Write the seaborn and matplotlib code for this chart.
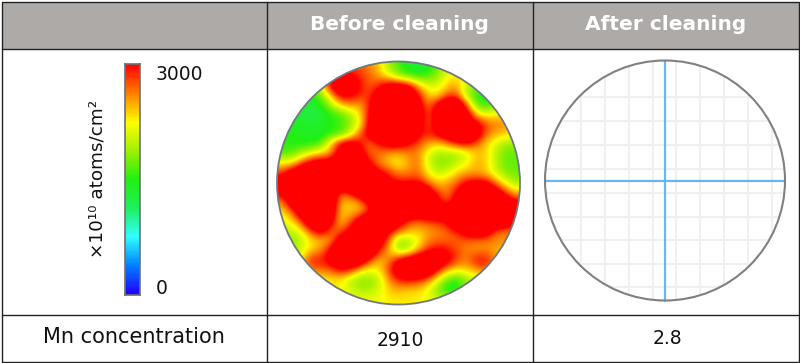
import numpy as np
import pandas as pd
import seaborn as sns
import matplotlib.pyplot as plt
from matplotlib.colors import LinearSegmentedColormap
from matplotlib.patches import Circle, Rectangle


# Mn concentration on the wafer before and after cleaning.

headers = ['Before cleaning', 'After cleaning']
row_label = 'Mn concentration'
row_values = ['2910', '2.8']
unit_label = '×10¹⁰ atoms/cm²'
scale_min = 0
scale_max = 3000

# Wafer map, hundreds of atoms units, top row first.
wafer_rows = [
    [20, 20, 20, 20, 20, 24, 26, 27, 27, 26, 24, 19, 16, 14, 13, 14, 17, 21, 22, 22, 22, 22, 22, 22, 22],
    [18, 18, 18, 18, 22, 28, 32, 31, 29, 27, 25, 22, 18, 16, 15, 16, 18, 22, 23, 23, 22, 22, 22, 22, 22],
    [17, 17, 17, 17, 23, 31, 36, 34, 30, 27, 29, 32, 33, 31, 25, 21, 21, 24, 25, 20, 18, 18, 20, 22, 22],
    [15, 15, 15, 15, 17, 24, 31, 31, 29, 28, 33, 36, 36, 36, 30, 24, 23, 27, 28, 19, 15, 14, 17, 21, 22],
    [15, 15, 14, 13, 15, 19, 24, 26, 25, 29, 36, 38, 38, 37, 33, 26, 31, 36, 36, 28, 17, 15, 17, 21, 22],
    [14, 14, 13, 12, 13, 15, 16, 19, 23, 30, 38, 40, 40, 38, 34, 27, 33, 38, 38, 33, 24, 22, 23, 24, 25],
    [14, 14, 14, 14, 14, 15, 16, 18, 22, 31, 38, 40, 40, 38, 33, 27, 32, 38, 38, 36, 32, 28, 26, 26, 25],
    [15, 15, 14, 14, 14, 15, 16, 20, 27, 32, 38, 40, 40, 36, 31, 29, 31, 34, 37, 38, 34, 27, 25, 24, 23],
    [15, 15, 15, 15, 16, 24, 31, 33, 30, 26, 29, 32, 32, 30, 28, 25, 24, 26, 29, 30, 27, 24, 21, 19, 18],
    [16, 17, 19, 22, 24, 25, 32, 38, 33, 27, 27, 25, 25, 26, 26, 22, 19, 19, 19, 21, 24, 24, 20, 17, 17],
    [23, 23, 28, 32, 33, 33, 38, 38, 35, 30, 26, 24, 22, 25, 27, 21, 18, 18, 20, 22, 25, 24, 20, 17, 17],
    [28, 33, 36, 38, 38, 40, 40, 40, 38, 35, 31, 29, 26, 26, 27, 23, 20, 21, 24, 25, 25, 24, 21, 18, 17],
    [34, 38, 40, 40, 40, 40, 40, 38, 38, 38, 35, 31, 30, 30, 30, 27, 24, 25, 27, 30, 31, 31, 26, 22, 19],
    [31, 38, 40, 40, 40, 38, 27, 30, 36, 40, 40, 38, 35, 36, 38, 34, 28, 26, 30, 36, 38, 38, 34, 28, 24],
    [26, 33, 38, 40, 40, 36, 25, 24, 25, 31, 40, 40, 38, 38, 38, 38, 32, 27, 33, 38, 40, 40, 38, 35, 31],
    [23, 27, 34, 38, 40, 35, 24, 24, 25, 28, 36, 40, 38, 36, 36, 36, 36, 33, 38, 40, 40, 40, 40, 38, 34],
    [21, 23, 28, 36, 38, 32, 24, 27, 33, 38, 36, 38, 33, 28, 27, 28, 29, 30, 38, 40, 40, 40, 38, 36, 32],
    [20, 20, 22, 28, 32, 27, 27, 31, 36, 38, 36, 31, 27, 25, 24, 25, 26, 27, 29, 33, 36, 34, 27, 26, 26],
    [18, 18, 20, 23, 24, 25, 33, 36, 38, 36, 33, 27, 18, 19, 22, 26, 27, 27, 27, 27, 26, 26, 26, 26, 26],
    [18, 19, 21, 24, 26, 31, 38, 38, 38, 38, 29, 25, 19, 20, 25, 29, 31, 30, 28, 26, 26, 26, 25, 24, 24],
    [18, 20, 23, 30, 29, 32, 36, 36, 36, 28, 24, 26, 31, 34, 36, 38, 36, 32, 28, 26, 30, 30, 26, 22, 22],
    [20, 22, 24, 26, 27, 27, 30, 29, 24, 22, 23, 28, 34, 38, 38, 36, 30, 25, 23, 24, 25, 27, 24, 22, 22],
    [20, 22, 22, 22, 22, 23, 23, 20, 18, 18, 20, 26, 29, 30, 29, 27, 22, 17, 15, 18, 21, 22, 22, 22, 22],
    [22, 22, 22, 22, 22, 23, 23, 21, 19, 19, 21, 24, 25, 24, 24, 22, 18, 14, 14, 19, 22, 22, 22, 22, 22],
    [22, 22, 22, 22, 22, 22, 22, 22, 22, 22, 22, 23, 23, 23, 23, 22, 20, 20, 20, 21, 22, 22, 22, 22, 22],
]
wafer_scale = 100

# Faint grid on the cleaned wafer, pixel positions.
grid_x = [581, 605, 629, 653, 676, 700, 724, 748, 772]
grid_y = [97, 121, 145, 169, 193, 217, 240, 264, 287]

rainbow = LinearSegmentedColormap.from_list(
    'wafer', ['#2000ff', '#0080ff', '#30ffff', '#20ee60', '#20f010', '#a0f000', '#ffff00', '#ff8000', '#ff0000'])

sns.set_theme(style='white')
plt.rcParams['font.family'] = ['DejaVu Sans']

fig = plt.figure(figsize=(8, 3.63), dpi=100)
ax = fig.add_axes([0, 0, 1, 1])
ax.set_xlim(0, 800)
ax.set_ylim(363, 0)
ax.axis('off')

# Table
line = '#222222'
ax.add_patch(Rectangle((1.5, 1.5), 797, 47, fc='#aeaaa8', ec='none', zorder=0))
ax.add_patch(Rectangle((1.5, 1.5), 797, 360, fc='none', ec=line, lw=1.0, zorder=5))
ax.plot([1.5, 798.5], [48.5, 48.5], color=line, lw=1.0, zorder=5)
ax.plot([1.5, 798.5], [314.5, 314.5], color=line, lw=1.0, zorder=5)
ax.plot([266.5, 266.5], [1.5, 361.5], color=line, lw=1.0, zorder=5)
ax.plot([532.5, 532.5], [1.5, 361.5], color=line, lw=1.0, zorder=5)

ax.text(399, 25, headers[0], color='white', fontsize=14.5, fontweight='bold', ha='center', va='center')
ax.text(666, 25, headers[1], color='white', fontsize=14.5, fontweight='bold', ha='center', va='center')
ax.text(134, 337, row_label, color='#111111', fontsize=15, ha='center', va='center')
ax.text(400, 340, row_values[0], color='#111111', fontsize=13.4, ha='center', va='center')
ax.text(667, 338, row_values[1], color='#111111', fontsize=13.5, ha='center', va='center')

# Before cleaning wafer
wafer = np.array(wafer_rows) * wafer_scale
cx, cy, r = 398.5, 183, 121.5
im = ax.imshow(wafer, cmap=rainbow, vmin=scale_min, vmax=scale_max, interpolation='bicubic',
               extent=(cx - r, cx + r, cy + r, cy - r), aspect='auto', zorder=1)
im.set_clip_path(Circle((cx, cy), r, transform=ax.transData))
ax.add_patch(Circle((cx, cy), r, fc='none', ec='#707880', lw=1.3, zorder=2))
ax.set_xlim(0, 800)
ax.set_ylim(363, 0)

# After cleaning wafer
cx2, cy2, r2 = 665, 180.5, 120
clip = Circle((cx2, cy2), r2, transform=ax.transData)
for gx in grid_x:
    ax.plot([gx, gx], [cy2 - r2, cy2 + r2], color='#f0f0f0', lw=1.4, zorder=1, clip_path=clip)
for gy in grid_y:
    ax.plot([cx2 - r2, cx2 + r2], [gy, gy], color='#f0f0f0', lw=1.4, zorder=1, clip_path=clip)
ax.plot([cx2, cx2], [cy2 - r2, cy2 + r2], color='#6ab6ee', lw=1.6, zorder=2)
ax.plot([cx2 - r2, cx2 + r2], [cy2, cy2], color='#6ab6ee', lw=1.6, zorder=2)
ax.add_patch(Circle((cx2, cy2), r2, fc='none', ec='#808080', lw=1.5, zorder=3))

# Colour bar, a one column heatmap
levels = pd.DataFrame(np.linspace(scale_max, scale_min, 200))
cax = fig.add_axes([125 / 800, 1 - 295 / 363, 15 / 800, 231 / 363])
sns.heatmap(levels, ax=cax, cmap=rainbow, vmin=scale_min, vmax=scale_max, cbar=False,
            xticklabels=False, yticklabels=False)
for side in cax.spines.values():
    side.set_visible(True)
    side.set_color('#707070')
    side.set_linewidth(1.2)

ax.text(156, 74, str(scale_max), color='#111111', fontsize=13.5, ha='left', va='center')
ax.text(156, 289, str(scale_min), color='#111111', fontsize=13.5, ha='left', va='center')
ax.text(98, 179, unit_label, color='#111111', fontsize=13.2, rotation=90, ha='center', va='center')

fig.savefig('out.png', dpi=100)
